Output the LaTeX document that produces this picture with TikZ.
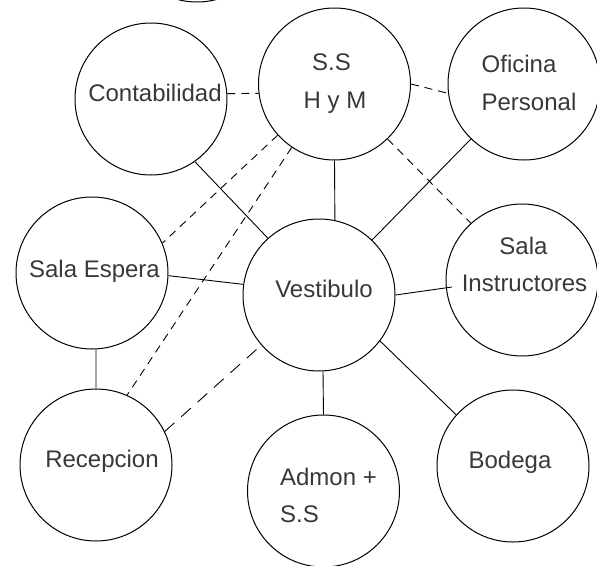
\documentclass[tikz,border=0pt]{standalone}
\usepackage{fontspec}
\setmainfont{Liberation Sans}
\begin{document}
\begin{tikzpicture}[x=1pt,y=-1pt,
  room/.style={draw, circle, line width=1pt, minimum size=152pt, inner sep=0pt},
  lbl/.style={anchor=base, inner sep=0pt, text=black!78, font=\fontsize{24}{28}\selectfont},
  link/.style={line width=0.9pt},
  dlink/.style={line width=0.9pt, dash pattern=on 8pt off 6pt},
  ldlink/.style={line width=0.9pt, dash pattern=on 13pt off 9pt}]
\useasboundingbox (0,0) rectangle (597,565);
\clip (0,0) rectangle (597,565);
% rooms
\node[room] (top)  at (197,-74) {};
\node[room] (cont) at (151,99) {};
\node[room] (ss)   at (334.5,84) {};
\node[room] (ofi)  at (524,84) {};
\node[room] (se)   at (92,273) {};
\node[room] (ves)  at (319,295) {};
\node[room] (inst) at (522,280) {};
\node[room] (rec)  at (96,465) {};
\node[room] (adm)  at (323.5,491) {};
\node[room] (bod)  at (513,466) {};
% labels
\node[lbl] (cont-t) at (155,101) {Contabilidad};
\node[lbl] (ss-t1) at (331.5,70) {S.S};
\node[lbl] (ss-t2) at (335,108) {H y M};
\node[lbl] (ofi-t1) at (519,72) {Oficina};
\node[lbl] (ofi-t2) at (529,110) {Personal};
\node[lbl] (se-t) at (94.5,277) {Sala Espera};
\node[lbl] (ves-t) at (324,297) {Vestibulo};
\node[lbl] (inst-t1) at (523.5,254) {Sala};
\node[lbl] (inst-t2) at (524.5,291) {Instructores};
\node[lbl] (bod-t) at (510,468) {Bodega};
\node[lbl] (rec-t) at (102,467) {Recepcion};
\node[lbl] (adm-t1) at (328.5,485) {Admon +};
\node[lbl] (adm-t2) at (299.5,522) {S.S};
% inner end point
\coordinate (instin) at (452,287);
% solid links
\draw[link] (ss.south) -- (ves.78);
\draw[link] (cont.305.8) -- (ves.132.9);
\draw[link] (ofi.226.1) -- (ves.46.6);
\draw[link] (se.358.5) -- (ves.172.5);
\draw[link] (se.273) -- (rec.90);
\draw[link] (ves.east) -- (instin);
\draw[link] (ves.273.8) -- (adm.90);
\draw[link] (ves.323.4) -- (bod.138.6);
% dashed links
\draw[dlink] (cont.4.5) -- (ss.187);
\draw[dlink] (ss.0.8) -- (ofi.187.9);
\draw[dlink] (ss.314.2) -- (inst.132.8);
\draw[dlink] (ss.222.1) -- (se.23.2);
\draw[dlink] (ss.236) -- (rec.66.1);
\draw[ldlink] (rec.26.9) -- (ves.221.8);
\end{tikzpicture}
\end{document}
